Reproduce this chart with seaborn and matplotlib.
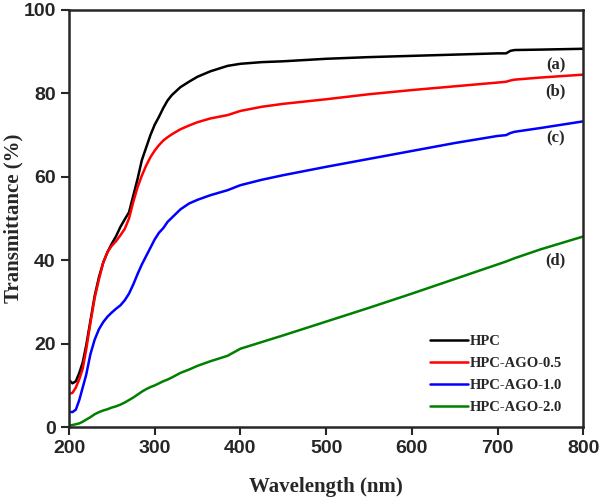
import pandas as pd
import matplotlib.pyplot as plt
import seaborn as sns

# Wavelength grid (nm) and transmittance (%)
wavelength = [200, 204, 208, 212, 216, 220, 225, 230, 235, 240, 245, 250, 255, 260, 265,
              270, 275, 280, 285, 290, 295, 300, 305, 310, 315, 320, 330, 340, 350, 365,
              385, 400, 425, 450, 500, 550, 600, 650, 700, 710, 715, 720, 750, 800]

hpc = [11.3, 10.5, 11.0, 13.0, 15.5, 19.5, 25.5, 31.5, 36, 39.5, 42, 44, 45.8, 48, 49.8,
       51.5, 55.5, 59.5, 64, 67, 70, 72.5, 74.4, 76.5, 78.3, 79.6, 81.5, 82.8, 84, 85.3,
       86.6, 87.1, 87.5, 87.7, 88.3, 88.7, 89, 89.3, 89.6, 89.6, 90.2, 90.4, 90.5, 90.7]
hpc_ago_05 = [8.0, 8.2, 9.5, 11.5, 14, 18.5, 25, 31, 35.5, 39.5, 42, 43.5, 44.6, 46, 47.5,
              50, 54, 57.5, 60.3, 62.7, 64.7, 66.3, 67.6, 68.7, 69.5, 70.2, 71.4, 72.3, 73.1, 74,
              74.8, 75.8, 76.8, 77.5, 78.6, 79.8, 80.8, 81.7, 82.6, 82.8, 83.1, 83.3, 83.8, 84.5]
hpc_ago_10 = [3.7, 3.6, 4.2, 6.5, 9.5, 12.5, 17.5, 21, 23.5, 25.2, 26.5, 27.5, 28.4, 29.2, 30.4,
              32, 34.2, 36.7, 39, 41, 43, 45, 46.6, 47.7, 49.2, 50.2, 52.2, 53.6, 54.5, 55.6,
              56.8, 58, 59.3, 60.4, 62.4, 64.3, 66.2, 68.1, 69.8, 70, 70.5, 70.8, 71.7, 73.3]
hpc_ago_20 = [0.4, 0.5, 0.7, 0.9, 1.3, 1.8, 2.4, 3.1, 3.6, 4.0, 4.3, 4.7, 5.0, 5.4, 5.9,
              6.5, 7.1, 7.8, 8.5, 9.1, 9.6, 10, 10.5, 11, 11.4, 11.9, 13, 13.8, 14.7, 15.8,
              17.1, 18.8, 20.4, 22, 25.3, 28.6, 32, 35.5, 39, 39.7, 40.1, 40.5, 42.6, 45.7]

series_names = ["HPC", "HPC-AGO-0.5", "HPC-AGO-1.0", "HPC-AGO-2.0"]
series_values = [hpc, hpc_ago_05, hpc_ago_10, hpc_ago_20]
colors = ["#000000", "#ff0000", "#0000ff", "#008000"]
curve_tags = ["(a)", "(b)", "(c)", "(d)"]
tag_y = [86.8, 80.6, 69.3, 40.0]

df = pd.concat(
    [pd.DataFrame({"Wavelength": wavelength, "Transmittance": vals, "Sample": name})
     for name, vals in zip(series_names, series_values)],
    ignore_index=True,
)

sns.set_style("ticks")
plt.rcParams["font.family"] = ["Liberation Sans", "DejaVu Sans"]

fig = plt.figure(figsize=(6.0, 4.99), dpi=100)
ax = fig.add_axes([0.115, 0.144, 0.857, 0.836])

sns.lineplot(data=df, x="Wavelength", y="Transmittance", hue="Sample",
             palette=dict(zip(series_names, colors)), linewidth=1.8, ax=ax)

ax.set_xlim(200, 800)
ax.set_ylim(0, 100)
ax.set_xticks([200, 300, 400, 500, 600, 700, 800])
ax.set_yticks([0, 20, 40, 60, 80, 100])
ax.tick_params(axis="both", direction="out", length=6, width=1.5, labelsize=14,
               top=False, right=False)
for lbl in ax.get_xticklabels() + ax.get_yticklabels():
    lbl.set_fontweight("bold")
for sp in ax.spines.values():
    sp.set_linewidth(1.8)
    sp.set_visible(True)

serif = ["Liberation Serif", "DejaVu Serif"]
ax.set_xlabel("Wavelength (nm)", fontsize=15, fontweight="bold", family=serif, labelpad=14)
ax.set_ylabel("Transmittance (%)", fontsize=15, fontweight="bold", family=serif)
ax.yaxis.set_label_coords(-0.088, 0.5)

for tag, ty in zip(curve_tags, tag_y):
    ax.text(768, ty, tag, fontsize=12, fontweight="bold", family=serif,
            ha="center", va="center")

leg = ax.legend(loc="lower right", bbox_to_anchor=(0.985, 0.0), frameon=False,
                handlelength=2.6, handletextpad=0.15, labelspacing=0.6,
                prop={"family": serif, "weight": "bold", "size": 10.5})

plt.savefig("out.png", dpi=100)
